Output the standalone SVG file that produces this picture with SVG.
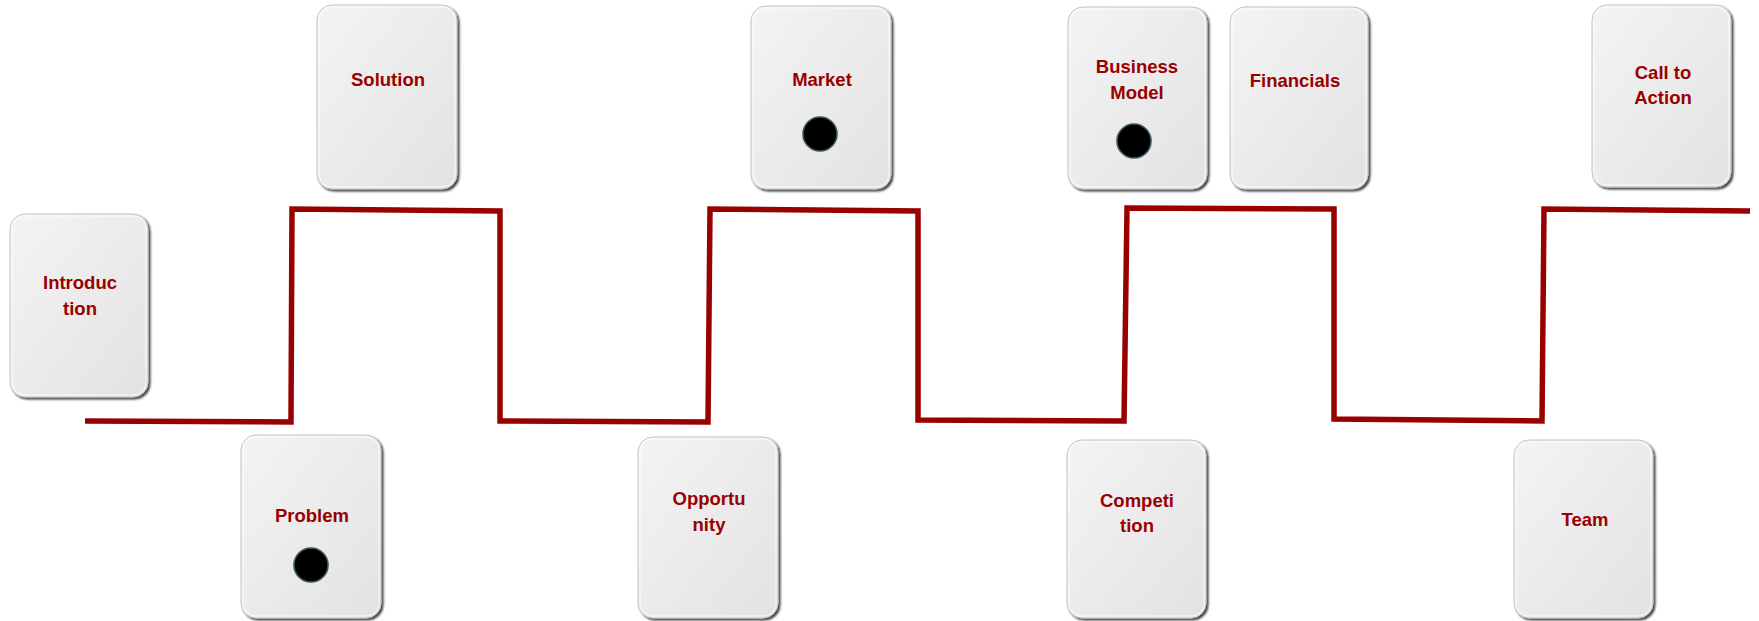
<svg xmlns="http://www.w3.org/2000/svg" width="1759" height="621" viewBox="0 0 1759 621">
  <style>
    .card { fill: url(#cardFill); stroke: #c4c4c4; stroke-width: 1; filter: url(#cardShadow); }
    .inner { fill: none; stroke: #ffffff; stroke-opacity: 0.55; stroke-width: 1.5; }
    .label { font-family: "Liberation Sans", Arial, sans-serif; font-weight: bold; font-size: 18.5px; fill: #990000; text-anchor: middle; }
    .dot { fill: #000000; stroke: #3b5661; stroke-width: 1.6; }
    .track { fill: none; stroke: #990000; stroke-width: 5.5; stroke-linejoin: miter; stroke-linecap: butt; }
  </style>
  <defs>
    <linearGradient id="cardFill" x1="0" y1="0" x2="1" y2="1">
      <stop offset="0" stop-color="#f4f4f4"/>
      <stop offset="1" stop-color="#e2e2e2"/>
    </linearGradient>
    <filter id="cardShadow" x="-10%" y="-10%" width="125%" height="125%">
      <feGaussianBlur in="SourceAlpha" stdDeviation="0.8"/>
      <feOffset dx="2" dy="2" result="off"/>
      <feComponentTransfer><feFuncA type="linear" slope="0.75"/></feComponentTransfer>
      <feMerge><feMergeNode/><feMergeNode in="SourceGraphic"/></feMerge>
    </filter>
  </defs>
  <rect width="1759" height="621" fill="#ffffff"/>

  <!-- stepped timeline -->
  <g id="connectors">
    <path class="track" d="M85 421 L291 422 L292 209 L500 211 L500 421 L708 422 L710 209 L918 211 L918 420 L1124 421 L1127 208 L1334 209 L1334 419 L1542 421 L1544 209 L1750 211"/>
  </g>

  <g id="introduction">
    <rect class="card" x="10" y="214" width="138" height="183" rx="15"/>
    <rect class="inner" x="12" y="216" width="134" height="179" rx="13"/>
    <text class="label" x="80" y="289">Introduc</text>
    <text class="label" x="80" y="315">tion</text>
  </g>

  <g id="problem">
    <rect class="card" x="241" y="435" width="140" height="183" rx="15"/>
    <rect class="inner" x="243" y="437" width="136" height="179" rx="13"/>
    <text class="label" x="312" y="522">Problem</text>
    <circle class="dot" cx="311" cy="565" r="17"/>
  </g>

  <g id="solution">
    <rect class="card" x="317" y="5" width="140" height="184" rx="15"/>
    <rect class="inner" x="319" y="7" width="136" height="180" rx="13"/>
    <text class="label" x="388" y="86">Solution</text>
  </g>

  <g id="opportunity">
    <rect class="card" x="638" y="437" width="140" height="181" rx="15"/>
    <rect class="inner" x="640" y="439" width="136" height="177" rx="13"/>
    <text class="label" x="709" y="505">Opportu</text>
    <text class="label" x="709" y="531">nity</text>
  </g>

  <g id="market">
    <rect class="card" x="751" y="6" width="140" height="183" rx="15"/>
    <rect class="inner" x="753" y="8" width="136" height="179" rx="13"/>
    <text class="label" x="822" y="86">Market</text>
    <circle class="dot" cx="820" cy="134" r="17"/>
  </g>

  <g id="competition">
    <rect class="card" x="1067" y="440" width="139" height="178" rx="15"/>
    <rect class="inner" x="1069" y="442" width="135" height="174" rx="13"/>
    <text class="label" x="1137" y="507">Competi</text>
    <text class="label" x="1137" y="532">tion</text>
  </g>

  <g id="business-model">
    <rect class="card" x="1068" y="7" width="139" height="182" rx="15"/>
    <rect class="inner" x="1070" y="9" width="135" height="178" rx="13"/>
    <text class="label" x="1137" y="73">Business</text>
    <text class="label" x="1137" y="99">Model</text>
    <circle class="dot" cx="1134" cy="141" r="17"/>
  </g>

  <g id="financials">
    <rect class="card" x="1230" y="7" width="138" height="182" rx="15"/>
    <rect class="inner" x="1232" y="9" width="134" height="178" rx="13"/>
    <text class="label" x="1295" y="87">Financials</text>
  </g>

  <g id="team">
    <rect class="card" x="1514" y="440" width="139" height="178" rx="15"/>
    <rect class="inner" x="1516" y="442" width="135" height="174" rx="13"/>
    <text class="label" x="1585" y="526">Team</text>
  </g>

  <g id="call-to-action">
    <rect class="card" x="1592" y="5" width="139" height="182" rx="15"/>
    <rect class="inner" x="1594" y="7" width="135" height="178" rx="13"/>
    <text class="label" x="1663" y="79">Call to</text>
    <text class="label" x="1663" y="104">Action</text>
  </g>
</svg>
